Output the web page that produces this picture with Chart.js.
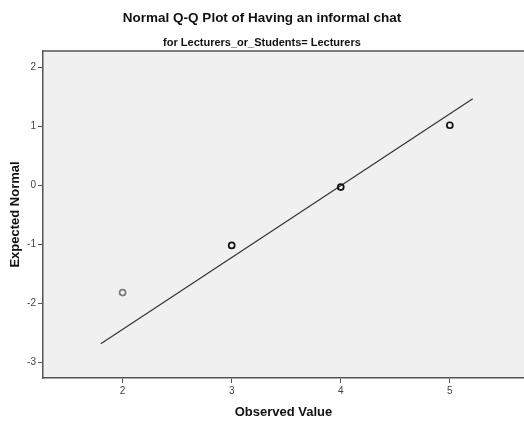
<!DOCTYPE html>
<html>
<head>
<meta charset="utf-8">
<script src="https://cdn.jsdelivr.net/npm/chart.js@4"></script>
<style>
  html, body { margin: 0; padding: 0; background: #fff; }
  #wrap { width: 524px; height: 422px; }
</style>
</head>
<body>
<div id="wrap"><canvas id="chart" width="524" height="422"></canvas></div>
<script>
// values
const observed = [2, 3, 4, 5];
const expectedNormal = [-1.82, -1.02, -0.03, 1.02];
const pointColors = ["#7a7a7a", "#111", "#111", "#111"];
const lineX = [1.80, 5.21];
const lineY = [-2.69, 1.47];
const xTicks = [2, 3, 4, 5];
const yTicks = [-3, -2, -1, 0, 1, 2];

const FONT = "'Liberation Sans', Arial, sans-serif";

// grey plot area + top border
const plotBg = {
   id: "plotBg",
   beforeDraw(chart) {
      const { ctx, chartArea: a } = chart;
      ctx.save();
      ctx.fillStyle = "#f0f0f0";
      ctx.fillRect(a.left, a.top, a.right - a.left, a.bottom - a.top);
      ctx.strokeStyle = "#555";
      ctx.lineWidth = 1.5;
      ctx.beginPath();
      ctx.moveTo(a.left, a.top);
      ctx.lineTo(a.right, a.top);
      ctx.stroke();
      ctx.restore();
   },
};

const ctx = document.getElementById("chart").getContext("2d");
const chart = new Chart(ctx, {
   type: "scatter",
   data: {
      datasets: [
         {
            label: "Observed",
            data: observed.map((x, i) => ({ x: x, y: expectedNormal[i] })),
            pointStyle: "circle",
            pointRadius: 3,
            pointBorderWidth: 1.7,
            pointBorderColor: pointColors,
            pointBackgroundColor: "rgba(0,0,0,0)",
            showLine: false,
         },
         {
            label: "Expected",
            data: lineX.map((x, i) => ({ x: x, y: lineY[i] })),
            showLine: true,
            borderColor: "#333",
            borderWidth: 1.2,
            pointRadius: 0,
         },
      ],
   },
   options: {
      responsive: false,
      animation: false,
      layout: { padding: 0, autoPadding: false },
      plugins: {
         legend: { display: false },
         tooltip: { enabled: false },
         title: {
            display: true,
            text: "Normal Q-Q Plot of Having an informal chat",
            color: "#111",
            font: { family: FONT, size: 13.5, weight: "bold" },
            padding: { top: 10.4, bottom: 9.8 },
         },
         subtitle: {
            display: true,
            text: "for Lecturers_or_Students= Lecturers",
            color: "#111",
            font: { family: FONT, size: 11, weight: "bold" },
            padding: { top: 0, bottom: 1.4 },
         },
      },
      scales: {
         x: {
            type: "linear",
            min: 1.27,
            max: 5.68,
            afterBuildTicks: (scale) => {
               scale.ticks = xTicks.map((v) => ({ value: v }));
            },
            afterFit: (scale) => {
               scale.height = 44;
               scale.paddingLeft = 0;
               scale.paddingRight = 0;
            },
            grid: { display: true, drawOnChartArea: false, tickLength: 5, color: "#555" },
            border: { display: true, color: "#555", width: 1.5 },
            ticks: { color: "#444", font: { family: FONT, size: 10 }, padding: 2, maxRotation: 0 },
            title: {
               display: true,
               text: "Observed Value",
               color: "#111",
               font: { family: FONT, size: 13, weight: "bold" },
               padding: { top: 5, bottom: 2 },
            },
         },
         y: {
            type: "linear",
            min: -3.27,
            max: 2.28,
            afterBuildTicks: (scale) => {
               scale.ticks = yTicks.map((v) => ({ value: v }));
            },
            afterFit: (scale) => {
               scale.width = 43;
               scale.paddingTop = 0;
               scale.paddingBottom = 0;
            },
            grid: { display: true, drawOnChartArea: false, tickLength: 5, color: "#555" },
            border: { display: true, color: "#555", width: 1.5 },
            ticks: { color: "#444", font: { family: FONT, size: 10 }, padding: 2 },
            title: {
               display: true,
               text: "Expected Normal",
               color: "#111",
               font: { family: FONT, size: 13, weight: "bold" },
               padding: { top: 8, bottom: 4 },
            },
         },
      },
   },
   plugins: [plotBg],
});
</script>
</body>
</html>
